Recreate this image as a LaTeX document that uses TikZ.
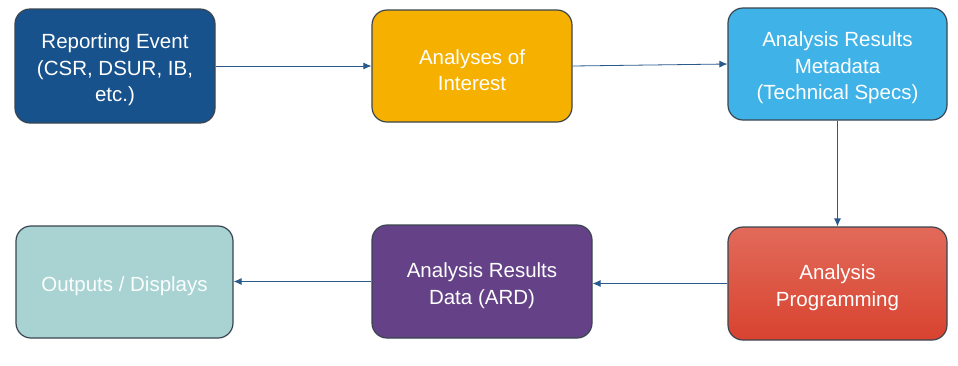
\documentclass[tikz,border=0pt]{standalone}
\usepackage{fontspec}
\setmainfont{Liberation Sans}
\usetikzlibrary{arrows.meta}
\definecolor{cA}{HTML}{17528C}
\definecolor{cB}{HTML}{F5B000}
\definecolor{cC}{HTML}{3FB2E8}
\definecolor{cDt}{HTML}{E26A5A}
\definecolor{cDb}{HTML}{D8432F}
\definecolor{cE}{HTML}{654287}
\definecolor{cF}{HTML}{A8D3D2}
\definecolor{edge}{HTML}{3A4550}
\definecolor{arr}{HTML}{2A5A8C}
\begin{document}
\begin{tikzpicture}[x=1pt,y=-1pt,
  boxstyle/.style={draw=edge,line width=1.2pt,rounded corners=15pt,inner sep=0pt},
  boxtext/.style={text=white,align=center,font=\fontsize{20.5}{26.5}\selectfont,inner sep=0pt,yshift=-4pt},
  conn/.style={draw=arr,line width=0.8pt,-{Latex[length=8pt,width=7pt]}}]
\useasboundingbox (0,0) rectangle (958,365);
\fill[white] (0,0) rectangle (958,365);
\node[boxstyle,fill=cA,minimum width=200pt,minimum height=114pt,
  label={[boxtext]center:{Reporting Event\\(CSR, DSUR, IB,\\etc.)}}] (a) at (115,66) {};
\node[boxstyle,fill=cB,minimum width=200pt,minimum height=112pt,
  label={[boxtext]center:{Analyses of\\Interest}}] (b) at (472,66) {};
\node[boxstyle,fill=cC,minimum width=219pt,minimum height=112pt,
  label={[boxtext]center:{Analysis Results\\Metadata\\(Technical Specs)}}] (c) at (837.5,64) {};
\node[boxstyle,top color=cDt,bottom color=cDb,minimum width=219pt,minimum height=113pt,
  label={[boxtext]center:{Analysis\\Programming}}] (d) at (837.5,283.5) {};
\node[boxstyle,fill=cE,minimum width=220pt,minimum height=113pt,
  label={[boxtext]center:{Analysis Results\\Data (ARD)}}] (e) at (482,281.5) {};
\node[boxstyle,fill=cF,minimum width=217pt,minimum height=112pt,
  label={[boxtext,text=white!95!cF]center:{Outputs / Displays}}] (f) at (124.5,282) {};
\draw[conn] (a.east) -- (b.west);
\draw[conn] (b.east) -- (c.west);
\draw[conn] (c.south) -- (d.north);
\draw[conn] (d.west) -- (d.west -| e.east);
\draw[conn] (e.west) -- (e.west -| f.east);
\end{tikzpicture}
\end{document}
